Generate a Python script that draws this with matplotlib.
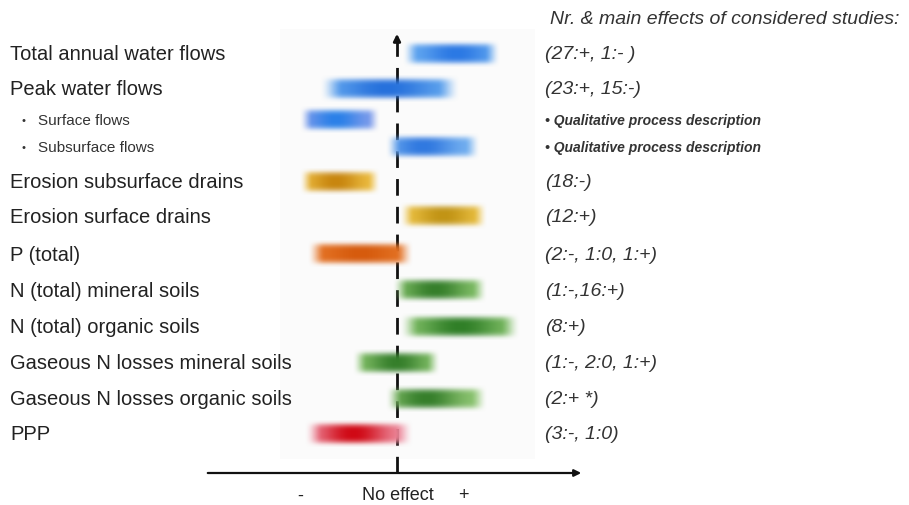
import numpy as np
import matplotlib
matplotlib.use('Agg')
import matplotlib.pyplot as plt
from matplotlib.colors import to_rgb

plt.rcParams['font.family'] = ['Liberation Sans', 'DejaVu Sans']

# rows of the chart (top to bottom)
labels = ['Total annual water flows', 'Peak water flows', 'Surface flows',
          'Subsurface flows', 'Erosion subsurface drains', 'Erosion surface drains',
          'P (total)', 'N (total) mineral soils', 'N (total) organic soils',
          'Gaseous N losses mineral soils', 'Gaseous N losses organic soils', 'PPP']
is_sub = [False, False, True, True, False, False, False, False, False, False, False, False]

# range of effect per row (0 = no effect, negative = decrease, positive = increase)
effect_lo = [0.05, -0.78, -0.98, -0.12, -0.98, 0.02, -0.90, -0.05, 0.02, -0.45, -0.12, -0.93]
effect_hi = [1.04, 0.64, -0.16, 0.84, -0.16, 0.91, 0.17, 0.91, 1.24, 0.44, 0.91, 0.17]

studies = ['(27:+, 1:- )', '(23:+, 15:-)', '\u2022 Qualitative process description',
           '\u2022 Qualitative process description', '(18:-)', '(12:+)',
           '(2:-, 1:0, 1:+)', '(1:-,16:+)', '(8:+)', '(1:-, 2:0, 1:+)', '(2:+ *)', '(3:-, 1:0)']

# styles: (edge colour, core colour, core position along bar)
bar_style = [
    ('#6aaef2', '#2a78e4', 0.55),
    ('#6aaef2', '#2570dc', 0.48),
    ('#8aa0ec', '#2a80e8', 0.45),
    ('#7ab6f2', '#2f78e0', 0.40),
    ('#f2c548', '#c8860e', 0.45),
    ('#f2c84a', '#c29414', 0.50),
    ('#e8782a', '#d65a0c', 0.50),
    ('#8cc870', '#357f2a', 0.45),
    ('#8cc870', '#2f7f26', 0.50),
    ('#8cc870', '#357f2a', 0.50),
    ('#96cc78', '#357f2a', 0.40),
    ('#f2a0b4', '#d00814', 0.45),
]
row_pos = [0, 1, 1.9, 2.7, 3.7, 4.7, 5.8, 6.85, 7.9, 8.95, 10, 11]

W, H = 909, 506
fig = plt.figure(figsize=(W / 100, H / 100), dpi=100)
ax = fig.add_axes([0, 0, 1, 1])
# pixel -> data mapping: x = (px - 397) / 100, y = (py - 55) / 34.5
ax.set_xlim(-397 / 100, (W - 397) / 100)
ax.set_ylim((H - 55) / 34.5, -55 / 34.5)
ax.axis('off')

def py(p):
    return (p - 55) / 34.5

# faint background panel
ax.add_patch(plt.Rectangle((-1.17, py(30)), 2.55, py(460) - py(30),
                           color='#fbfbfb', lw=0, zorder=0))

# vertical "no effect" axis (dashed, arrow on top)
ax.plot([0, 0], [py(474), py(40)], color='#111111', lw=2,
        linestyle=(0, (6, 4)), zorder=1)
ax.annotate('', xy=(0, py(32)), xytext=(0, py(44)),
            arrowprops=dict(arrowstyle='-|>', color='#111111', lw=2,
                            mutation_scale=10), zorder=1)
# horizontal axis
ax.annotate('', xy=(1.87, py(474)), xytext=(-1.92, py(474)),
            arrowprops=dict(arrowstyle='-|>', color='#111111', lw=1.6,
                            mutation_scale=10), zorder=1)

# blurred effect bars
nx, ny = 200, 50
t = np.linspace(0, 1, nx)
v = np.linspace(-1, 1, ny)
vprof = np.exp(-(np.abs(v) / 0.74) ** 4)
for y, lo, hi, (c_edge, c_core, core) in zip(row_pos, effect_lo, effect_hi, bar_style):
    ramp = np.clip(np.minimum(t, 1 - t) / 0.17, 0, 1)
    hprof = ramp * ramp * (3 - 2 * ramp)
    w = np.exp(-((t - core) / 0.32) ** 2)
    ce, cc = np.array(to_rgb(c_edge)), np.array(to_rgb(c_core))
    col = ce[None, :] + (cc - ce)[None, :] * w[:, None]
    img = np.zeros((ny, nx, 4))
    img[:, :, :3] = col[None, :, :]
    img[:, :, 3] = vprof[:, None] * hprof[None, :]
    h = 0.76
    ax.imshow(img, extent=(lo, hi, y + h / 2, y - h / 2), aspect='auto',
              interpolation='bilinear', zorder=2)

# left labels
for y, lab, sub in zip(row_pos, labels, is_sub):
    if sub:
        ax.text(22 / W, y, '\u2022', transform=ax.get_yaxis_transform(),
                ha='left', va='center', fontsize=8, color='#333333')
        ax.text(38 / W, y, lab, transform=ax.get_yaxis_transform(),
                ha='left', va='center', fontsize=11, color='#333333')
    else:
        ax.text(10 / W, y, lab, transform=ax.get_yaxis_transform(),
                ha='left', va='center', fontsize=14.5, color='#222222')

# right column: number of studies
ax.text(550 / W, py(20), 'Nr. & main effects of considered studies:',
        transform=ax.get_yaxis_transform(), ha='left', va='center',
        fontsize=14, style='italic', color='#333333')
for y, s, sub in zip(row_pos, studies, is_sub):
    ax.text(545 / W, y, s, transform=ax.get_yaxis_transform(), ha='left',
            va='center', style='italic', color='#333333',
            fontsize=10 if sub else 14, fontweight='bold' if sub else 'normal')

# bottom axis labels
ax.text(-0.97, py(496), '-', ha='center', va='center', fontsize=13, color='#222222')
ax.text(0.01, py(496), 'No effect', ha='center', va='center', fontsize=13, color='#222222')
ax.text(0.66, py(496), '+', ha='center', va='center', fontsize=13, color='#222222')

fig.savefig('out.png', dpi=100)
